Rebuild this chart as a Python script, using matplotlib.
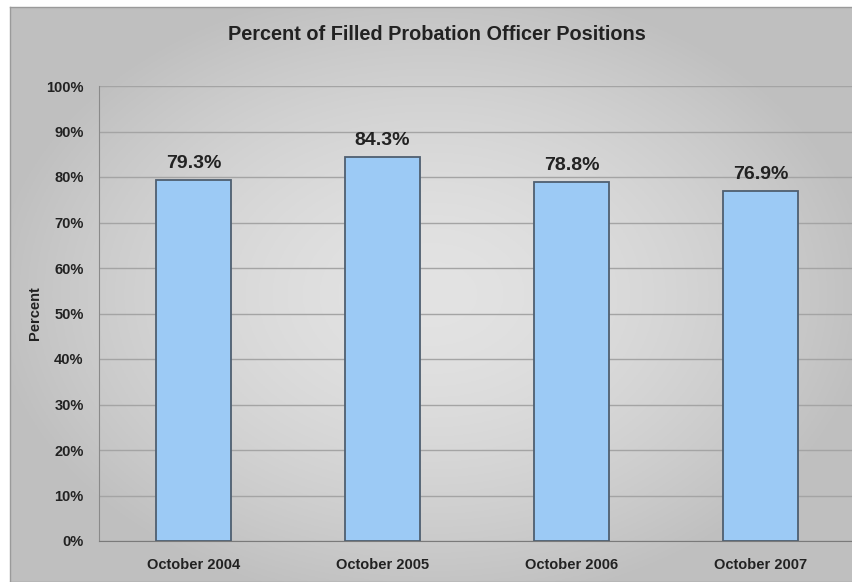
import numpy as np
import matplotlib
matplotlib.use("Agg")
import matplotlib.pyplot as plt

plt.rcParams['font.family'] = ['Liberation Sans', 'DejaVu Sans']

periods = ['October 2004', 'October 2005', 'October 2006', 'October 2007']
filled_pct = [79.3, 84.3, 78.8, 76.9]
y_ticks = list(range(0, 101, 10))

W, H = 853, 582
fig = plt.figure(figsize=(W / 100, H / 100), dpi=100)
fig.patch.set_facecolor('white')

# grey backdrop, lighter towards the middle
bg = fig.add_axes([10 / W, 0, 1 - 10 / W, 1 - 7 / H], zorder=0)
gx, gy = np.meshgrid(np.linspace(-1, 1, 400), np.linspace(-1, 1, 300))
r = np.clip(np.sqrt((gx / 1.05) ** 2 + (gy / 1.1) ** 2), 0, 1)
shade = 0.89 - 0.14 * r ** 1.6
bg.imshow(np.dstack([shade] * 3), aspect='auto', extent=[0, 1, 0, 1])
bg.set_xticks([])
bg.set_yticks([])
for s in bg.spines.values():
    s.set_color('#9a9a9a')
    s.set_linewidth(1.0)

ax = fig.add_axes([99 / W, (H - 541) / H, 756 / W, (541 - 86) / H], zorder=1)
ax.patch.set_alpha(0)

x = np.arange(len(periods))
bars = ax.bar(x, filled_pct, width=0.40, color='#9ccaf5',
              edgecolor='#4f5f70', linewidth=1.3, zorder=3)
for b, v in zip(bars, filled_pct):
    ax.text(b.get_x() + b.get_width() / 2, v + 1.8, f'{v:.1f}%',
            ha='center', va='bottom', fontsize=14, fontweight='bold',
            color='#222222')

ax.set_xlim(-0.5, len(periods) - 0.5)
ax.set_ylim(0, 100)
ax.set_yticks(y_ticks)
ax.set_yticklabels([f'{t}%' for t in y_ticks])
ax.set_xticks(x)
ax.set_xticklabels(periods)
ax.tick_params(axis='both', length=0, labelsize=10.5, colors='#222222')
ax.tick_params(axis='y', pad=11)
ax.tick_params(axis='x', pad=12)
for lbl in ax.get_xticklabels() + ax.get_yticklabels():
    lbl.set_fontweight('bold')

ax.grid(axis='y', color='#a4a4a4', linewidth=1.0, zorder=1)
for side in ['top', 'right']:
    ax.spines[side].set_visible(False)
ax.spines['left'].set_color('#8a8a8a')
ax.spines['bottom'].set_color('#7a7a7a')

ax.set_ylabel('Percent', fontsize=10.5, fontweight='bold', color='#222222',
              labelpad=3)

fig.text(437 / W, 1 - 35 / H, 'Percent of Filled Probation Officer Positions',
         ha='center', va='center', fontsize=14.3, fontweight='bold',
         color='#222222')

fig.savefig('out.png', dpi=100)
